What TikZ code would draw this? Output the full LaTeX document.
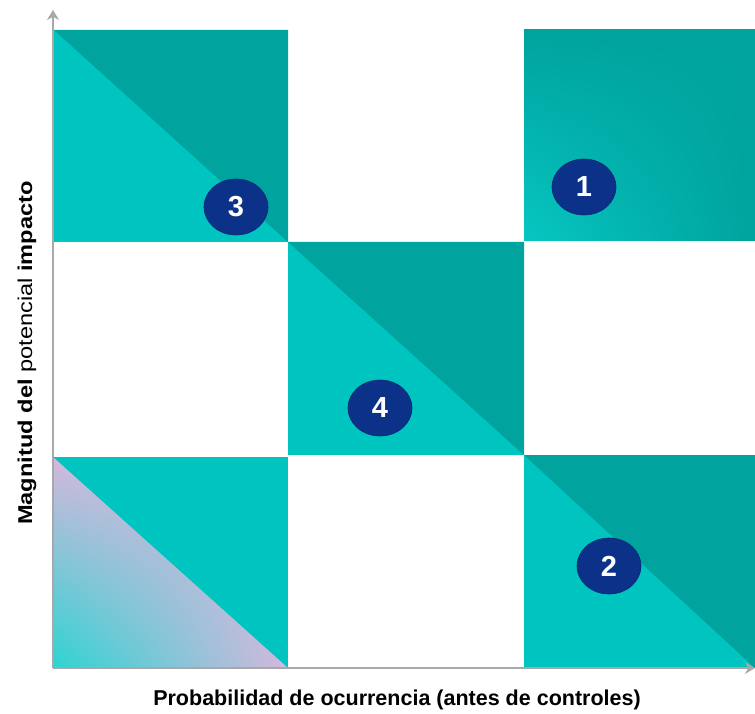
\documentclass[tikz,border=0pt]{standalone}
\usepackage{fontspec}
\setmainfont{Liberation Sans}
\usetikzlibrary{shapes.geometric,arrows.meta,shadings}
\definecolor{lightteal}{HTML}{00C4BF}
\definecolor{darkteal}{HTML}{00A39E}
\definecolor{navy}{HTML}{0B3189}
\definecolor{axisgray}{HTML}{A8A8A8}
\definecolor{pinkish}{HTML}{D4B8DC}
\definecolor{cyanish}{HTML}{2CD4D2}
\tikzset{
  badge/.style={ellipse, fill=navy, draw=navy!85!black, line width=0.6pt,
    minimum width=64pt, minimum height=56pt, inner sep=0pt,
    text=white, font=\fontsize{29}{29}\selectfont\bfseries},
  axisline/.style={draw=axisgray, line width=1.6pt,
    -{Stealth[length=10pt,width=12pt]}},
}
\begin{document}
\begin{tikzpicture}[x=1pt,y=-1pt]
\useasboundingbox (0,0) rectangle (755,714);
% top-left cell
\fill[lightteal] (54,30) rectangle (288,242);
\fill[darkteal] (54,30) -- (288,30) -- (288,242) -- cycle;
% top-right cell (gradient from lower-left corner)
\shade[upper left=darkteal, upper right=darkteal, lower right=darkteal, lower left=lightteal!85!cyanish] (524,30) rectangle (755,241);
% middle cell
\fill[lightteal] (288,242) rectangle (524,455);
\fill[darkteal] (288,242) -- (524,242) -- (524,455) -- cycle;
% bottom-left cell
\fill[lightteal] (53,457) rectangle (288,668);
\begin{scope}
\clip (53,457) -- (288,668) -- (53,668) -- cycle;
\shade[upper left=pinkish, lower right=pinkish, upper right=pinkish, lower left=cyanish] (53,457) rectangle (288,668);
\end{scope}
% bottom-right cell
\fill[lightteal] (524,455) rectangle (755,668);
\fill[darkteal] (524,455) -- (755,455) -- (755,668) -- cycle;
% axes
\coordinate (origin) at (53,668);
\coordinate (ytip) at (53,10);
\coordinate (xtip) at (755,668);
\draw[axisline] (origin) -- (ytip);
\draw[axisline] (origin) -- (xtip);
% badges
\node[badge] (b1) at (584,187) {1};
\node[badge] (b2) at (609,566) {2};
\node[badge] (b3) at (236,207) {3};
\node[badge] (b4) at (380,408) {4};
% labels
\node[font=\fontsize{21.5}{21.5}\selectfont\bfseries] (xlabel) at (397,700) {Probabilidad de ocurrencia (antes de controles)};
\node[rotate=90, font=\fontsize{20}{20}\selectfont] (ylabel) at (27,353) {\scalebox{1.18}[1]{\textbf{Magnitud del} potencial \textbf{impacto}}};
\end{tikzpicture}
\end{document}
